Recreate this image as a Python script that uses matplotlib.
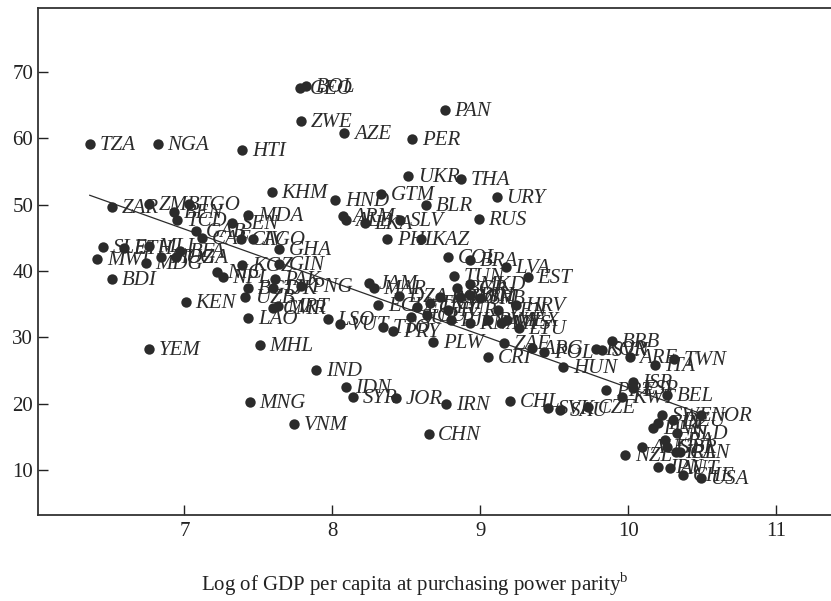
import numpy as np
from matplotlib import pyplot as plt

plt.rcParams['font.family'] = ['Liberation Serif', 'DejaVu Serif']
plt.rcParams['mathtext.fontset'] = 'custom'
plt.rcParams['mathtext.rm'] = 'Liberation Serif'

# country codes, log GDP per capita (PPP) and the plotted value
countries = [
    'BOL', 'GEO', 'ZWE', 'AZE', 'PER', 'PAN', 'TZA', 'NGA', 'HTI', 'KHM',
    'UKR', 'THA', 'HND', 'GTM', 'BLR', 'URY', 'RUS', 'ARM', 'ALB', 'LKA',
    'SLV', 'MDA', 'PHL', 'KAZ', 'COL', 'BRA', 'LVA', 'EST', 'TUN', 'ZAR',
    'ZMB', 'TGO', 'BEN', 'TCD', 'SEN', 'GAB', 'CAF', 'CIV', 'AGO', 'GHA',
    'SLE', 'MWI', 'ETH', 'MLI', 'MDG', 'MOZ', 'BFA', 'UGA', 'BDI', 'KGZ',
    'GIN', 'NIC', 'NPL', 'PAK', 'BGD', 'TJK', 'PNG', 'KEN', 'UZB', 'CMR',
    'MRT', 'LAO', 'YEM', 'MHL', 'MNG', 'VNM', 'IND', 'IDN', 'SYR', 'JOR',
    'IRN', 'CHN', 'CHL', 'PLW', 'CRI', 'ZAF', 'LSO', 'VUT', 'TTO', 'PRY',
    'JAM', 'MAR', 'ECU', 'DZA', 'EGY', 'TKM', 'ROM', 'BGR', 'MKD', 'DOM',
    'TUR', 'FJI', 'GUY', 'SUR', 'BIH', 'SRB', 'VEN', 'HRV', 'MYS', 'LTU',
    'MEX', 'BWA', 'KNA', 'ARG', 'POL', 'HUN', 'BRB', 'KOR', 'SVN', 'ARE',
    'ITA', 'TWN', 'ISR', 'ESP', 'PRT', 'KWT', 'BEL', 'SVK', 'SAU', 'CZE',
    'NZL', 'AUS', 'SWE', 'FIN', 'DNK', 'DEU', 'NOR', 'NLD', 'FRA', 'GBR',
    'IRL', 'CAN', 'JPN', 'AUT', 'CHE', 'USA',
]
log_gdp = [
    7.82, 7.78, 7.79, 8.08, 8.54, 8.76, 6.36, 6.82, 7.39, 7.59,
    8.51, 8.87, 8.02, 8.33, 8.63, 9.11, 8.99, 8.07, 8.09, 8.22,
    8.46, 7.43, 8.37, 8.60, 8.78, 8.93, 9.17, 9.32, 8.82, 6.51,
    6.76, 7.03, 6.93, 6.95, 7.32, 7.08, 7.12, 7.38, 7.46, 7.64,
    6.45, 6.41, 6.59, 6.76, 6.74, 6.84, 6.97, 6.94, 6.51, 7.39,
    7.64, 7.22, 7.26, 7.61, 7.43, 7.60, 7.79, 7.01, 7.41, 7.60,
    7.63, 7.43, 6.76, 7.51, 7.44, 7.74, 7.89, 8.09, 8.14, 8.43,
    8.77, 8.65, 9.20, 8.68, 9.05, 9.16, 7.97, 8.05, 8.34, 8.41,
    8.25, 8.28, 8.31, 8.45, 8.57, 8.66, 8.73, 8.84, 8.93, 8.86,
    8.78, 8.80, 8.64, 8.53, 8.93, 9.00, 9.12, 9.24, 9.14, 9.26,
    9.18, 9.05, 8.93, 9.35, 9.43, 9.56, 9.89, 9.78, 9.82, 10.01,
    10.18, 10.31, 10.03, 10.03, 9.85, 9.96, 10.26, 9.46, 9.54, 9.73,
    9.98, 10.09, 10.23, 10.20, 10.17, 10.30, 10.49, 10.33, 10.25, 10.26,
    10.32, 10.35, 10.20, 10.28, 10.37, 10.49,
]
value = [
    67.9, 67.6, 62.6, 60.8, 59.9, 64.3, 59.1, 59.1, 58.2, 51.9,
    54.3, 53.9, 50.7, 51.6, 49.9, 51.1, 47.8, 48.3, 47.7, 47.2,
    47.7, 48.4, 44.8, 44.8, 42.1, 41.6, 40.6, 39.1, 39.2, 49.6,
    50.1, 50.1, 48.9, 47.7, 47.2, 46.0, 45.0, 44.8, 44.8, 43.3,
    43.6, 41.8, 43.5, 43.8, 41.2, 42.1, 43.0, 42.1, 38.8, 40.9,
    41.0, 39.8, 39.1, 38.8, 37.4, 37.4, 37.7, 35.3, 36.1, 34.4,
    34.7, 32.9, 28.2, 28.8, 20.2, 16.9, 25.1, 22.5, 21.0, 20.8,
    19.9, 15.4, 20.4, 29.3, 27.0, 29.1, 32.7, 32.0, 31.5, 30.9,
    38.2, 37.4, 34.9, 36.2, 34.6, 35.2, 36.1, 37.4, 38.0, 36.1,
    34.1, 32.6, 33.4, 33.0, 36.4, 35.9, 34.1, 34.9, 32.1, 31.4,
    32.6, 32.6, 32.1, 28.4, 27.8, 25.5, 29.4, 28.2, 28.1, 27.0,
    25.8, 26.7, 23.2, 22.3, 22.0, 21.0, 21.3, 19.3, 19.0, 19.5,
    12.2, 13.4, 18.3, 17.1, 16.3, 17.5, 18.3, 15.5, 14.5, 13.4,
    12.7, 12.7, 10.4, 10.3, 9.2, 8.8,
]

# fitted line
fit_intercept = 102.1
fit_slope = -7.97
fit_range = [6.36, 10.5]

x_ticks = [7, 8, 9, 10, 11]
y_ticks = [10, 20, 30, 40, 50, 60, 70]

fig = plt.figure(figsize=(8.31, 6.01), dpi=100)
ax = fig.add_axes([0.0457, 0.1431, 0.9543, 0.8436])

ax.scatter(log_gdp, value, s=56, color='#2b2b2b', zorder=3, linewidths=0)
for name, xv, yv in zip(countries, log_gdp, value):
    ax.annotate(name, (xv, yv), xytext=(7, -1), textcoords='offset points',
                va='center', ha='left', fontsize=15, style='italic',
                color='#2b2b2b')

xf = np.array(fit_range)
ax.plot(xf, fit_intercept + fit_slope * xf, color='#2b2b2b', lw=0.9, zorder=2)

ax.set_xlim(6.01, 11.37)
ax.set_ylim(3.2, 79.65)
ax.set_xticks(x_ticks)
ax.set_yticks(y_ticks)
ax.tick_params(direction='in', length=7, width=1, labelsize=15, colors='#222222')
ax.tick_params(axis='x', pad=5)
ax.spines['right'].set_visible(False)
for s in ['left', 'top', 'bottom']:
    ax.spines[s].set_linewidth(1.3)
    ax.spines[s].set_color('#333333')

ax.set_xlabel(r'Log of GDP per capita at purchasing power parity$^{\mathrm{b}}$',
              fontsize=15, color='#222222')
ax.xaxis.set_label_coords(0.475, -0.11)

fig.savefig('out.png', dpi=100)
plt.close(fig)
